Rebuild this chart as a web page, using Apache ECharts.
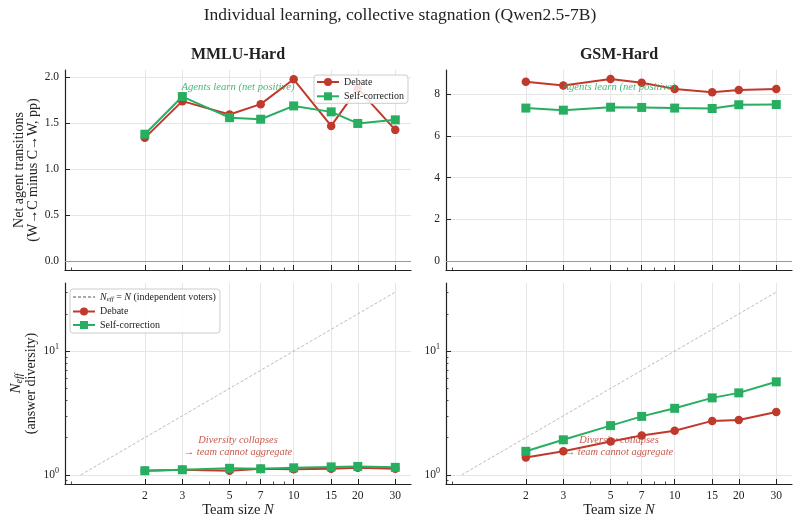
<!DOCTYPE html>
<html><head><meta charset="utf-8">
<script src="https://cdn.jsdelivr.net/npm/echarts@6/dist/echarts.min.js"></script>
<style>html,body{margin:0;padding:0;background:#fff}#c{width:799px;height:522px}</style>
</head><body><div id="c"></div>
<script>
// ---- data ----
const teamSizes = [2, 3, 5, 7, 10, 15, 20, 30];
const mmluDebate = [1.34, 1.74, 1.595, 1.707, 1.978, 1.47, 1.877, 1.427];
const mmluSelf = [1.38, 1.79, 1.56, 1.543, 1.688, 1.623, 1.497, 1.536];
const gsmDebate = [8.59, 8.41, 8.72, 8.54, 8.25, 8.09, 8.20, 8.24];
const gsmSelf = [7.33, 7.23, 7.37, 7.36, 7.33, 7.31, 7.49, 7.50];
const mmluNeffDebate = [1.08, 1.10, 1.08, 1.12, 1.11, 1.12, 1.14, 1.12];
const mmluNeffSelf = [1.08, 1.10, 1.13, 1.12, 1.14, 1.16, 1.17, 1.15];
const gsmNeffDebate = [1.38, 1.55, 1.86, 2.08, 2.27, 2.73, 2.78, 3.22];
const gsmNeffSelf = [1.55, 1.92, 2.50, 2.97, 3.45, 4.19, 4.60, 5.65];
const diagN = [1, 30];
const xMajorTicks = [2, 3, 5, 7, 10, 15, 20, 30];
const xMinorTicks = [0.9, 4, 6, 8, 9];
const yNeffMajor = [1, 10];
const yNeffMinor = [0.9, 2, 3, 4, 5, 6, 7, 8, 9, 20, 30];
const yTopLeftTicks = [0, 0.5, 1, 1.5, 2];
const yTopRightTicks = [0, 2, 4, 6, 8];

// ---- style ----
const FONT = '"Liberation Serif", "Times New Roman", serif';
const RED = '#c0392b', GREEN = '#27ae60';
const INK = '#222';
const GRIDC = '#e6e6e6';
const LOGMIN = 0.8435, LOGMAX = 35.56;
const grids = [
  {left: 65, top: 70, width: 346, height: 200},
  {left: 446, top: 70, width: 346, height: 200},
  {left: 65, top: 283, width: 346, height: 201},
  {left: 446, top: 283, width: 346, height: 201}
];

function xMajor(gi, showLabels) {
  return {
    type: 'log', gridIndex: gi, min: LOGMIN, max: LOGMAX, position: 'bottom',
    axisLine: {show: true, onZero: false, lineStyle: {color: INK, width: 1.2}},
    axisTick: {show: true, inside: true, length: 5, customValues: xMajorTicks, lineStyle: {color: INK, width: 1}},
    axisLabel: {show: showLabels, customValues: xMajorTicks, formatter: v => String(Math.round(v)),
      color: INK, fontFamily: FONT, fontSize: 11.5, margin: 6},
    splitLine: {show: true, lineStyle: {color: GRIDC, width: 1}},
    minorTick: {show: false}, minorSplitLine: {show: false},
    name: showLabels ? '{t|Team size }{i|N}' : '', nameLocation: 'middle', nameGap: 19,
    nameTextStyle: {color: INK, fontFamily: FONT, fontSize: 14.5,
      rich: {t: {fontFamily: FONT, fontSize: 14.5, color: INK}, i: {fontFamily: FONT, fontSize: 14.5, fontStyle: 'italic', color: INK}}}
  };
}
function xMinor(gi) {
  return {
    type: 'log', gridIndex: gi, min: LOGMIN, max: LOGMAX, position: 'bottom', offset: 0,
    axisLine: {show: false, onZero: false},
    axisTick: {show: true, inside: true, length: 2.5, customValues: xMinorTicks, lineStyle: {color: INK, width: 0.8}},
    axisLabel: {show: false}, splitLine: {show: false}, minorTick: {show: false}
  };
}
function yLin(gi, min, max, ticks, fmt, name) {
  return {
    type: 'value', gridIndex: gi, min: min, max: max, position: 'left',
    axisLine: {show: true, onZero: false, lineStyle: {color: INK, width: 1.2}},
    axisTick: {show: true, inside: true, length: 5, customValues: ticks, lineStyle: {color: INK}},
    axisLabel: {customValues: ticks, formatter: fmt, color: INK, fontFamily: FONT, fontSize: 11.5, margin: 6},
    splitLine: {show: true, lineStyle: {color: GRIDC, width: 1}},
    name: name, nameLocation: 'middle', nameGap: 25,
    nameTextStyle: {color: INK, fontFamily: FONT, fontSize: 14, lineHeight: 14}
  };
}
function yLogMajor(gi, withName) {
  return {
    type: 'log', gridIndex: gi, min: LOGMIN, max: LOGMAX, position: 'left',
    axisLine: {show: true, onZero: false, lineStyle: {color: INK, width: 1.2}},
    axisTick: {show: true, inside: true, length: 5, customValues: yNeffMajor, lineStyle: {color: INK}},
    axisLabel: {customValues: yNeffMajor, margin: 6,
      formatter: v => '{b|10}{s|' + Math.round(Math.log10(v)) + '}',
      rich: {b: {fontFamily: FONT, fontSize: 11.5, color: INK},
             s: {fontFamily: FONT, fontSize: 8, color: INK, padding: [0, 0, 8, 0]}}},
    splitLine: {show: true, lineStyle: {color: GRIDC, width: 1}},
    minorTick: {show: false},
    name: withName ? '{n|N}{e|eff}\n{t|(answer diversity)}' : '', nameLocation: 'middle', nameGap: 24,
    nameTextStyle: {color: INK, fontFamily: FONT, fontSize: 14, lineHeight: 16,
      rich: {n: {fontFamily: FONT, fontSize: 15, fontStyle: 'italic', color: INK},
             e: {fontFamily: FONT, fontSize: 10, fontStyle: 'italic', color: INK, padding: [7, 0, 0, 0]},
             t: {fontFamily: FONT, fontSize: 14, color: INK}}}
  };
}
function yLogMinor(gi) {
  return {
    type: 'log', gridIndex: gi, min: LOGMIN, max: LOGMAX, position: 'left', offset: 0,
    axisLine: {show: false, onZero: false},
    axisTick: {show: true, inside: true, length: 2.5, customValues: yNeffMinor, lineStyle: {color: INK, width: 0.8}},
    axisLabel: {show: false}, splitLine: {show: false}, minorTick: {show: false}
  };
}
function lineSeries(name, color, symbol, xi, yi, ys) {
  return {
    type: 'line', name: name, xAxisIndex: xi, yAxisIndex: yi,
    data: teamSizes.map((n, i) => [n, ys[i]]),
    symbol: symbol, symbolSize: symbol === 'rect' ? 9 : 8.5, showSymbol: true,
    lineStyle: {width: 2, color: color}, itemStyle: {color: color},
    z: 3, animation: false
  };
}
function diagSeries(xi, yi) {
  return {
    type: 'line', name: 'Neff', xAxisIndex: xi, yAxisIndex: yi,
    data: diagN.map(n => [n, n]), symbol: 'none', showSymbol: false,
    lineStyle: {width: 0.8, color: '#aaaaaa', type: [3, 2]}, itemStyle: {color: '#aaaaaa'},
    z: 2, animation: false
  };
}

const tlDebate = lineSeries('Debate', RED, 'circle', 0, 0, mmluDebate);
tlDebate.markLine = {silent: true, symbol: 'none', label: {show: false}, animation: false,
  lineStyle: {color: '#999', width: 1.2, type: 'solid'}, data: [{yAxis: 0}]};
const trDebate = lineSeries('Debate', RED, 'circle', 2, 1, gsmDebate);
trDebate.markLine = {silent: true, symbol: 'none', label: {show: false}, animation: false,
  lineStyle: {color: '#999', width: 1.2, type: 'solid'}, data: [{yAxis: 0}]};

const legendBase = {
  orient: 'vertical', itemWidth: 22, itemHeight: 10, itemGap: 4.3,
  padding: [2, 4, 2, 2], borderColor: '#cccccc', borderWidth: 1, borderRadius: 3,
  backgroundColor: 'rgba(255,255,255,0.85)',
  textStyle: {color: INK, fontFamily: FONT, fontSize: 10,
    rich: {n: {fontFamily: FONT, fontSize: 10, fontStyle: 'italic', color: INK},
           e: {fontFamily: FONT, fontSize: 7, fontStyle: 'italic', color: INK, padding: [5, 0, 0, 0]},
           t: {fontFamily: FONT, fontSize: 10, color: INK}}},
  formatter: name => name === 'Neff' ? '{n|N}{e|eff}{t| = }{n|N}{t| (independent voters)}' : name
};

function txt(x, y, text, font, fill, lh) {
  return {type: 'text', x: x, y: y, silent: true, z: 10,
    style: {text: text, font: font, fill: fill, align: 'center', verticalAlign: 'middle',
      textAlign: 'center', textVerticalAlign: 'middle', lineHeight: lh || undefined}};
}
const cx = g => g.left + g.width / 2;

const option = {
  animation: false,
  backgroundColor: '#ffffff',
  grid: grids.map(g => Object.assign({containLabel: false}, g)),
  xAxis: [xMajor(0, false), xMinor(0), xMajor(1, false), xMinor(1), xMajor(2, true), xMinor(2), xMajor(3, true), xMinor(3)],
  yAxis: [
    yLin(0, -0.099, 2.079, yTopLeftTicks, v => v.toFixed(1), 'Net agent transitions\n(W→C minus C→W, pp)'),
    yLin(1, -0.436, 9.156, yTopRightTicks, v => String(v), ''),
    yLogMajor(2, true), yLogMinor(2),
    yLogMajor(3, false), yLogMinor(3)
  ],
  legend: [
    Object.assign({}, legendBase, {data: ['Debate', 'Self-correction'], left: 314, top: 75}),
    Object.assign({}, legendBase, {data: [{name: 'Neff', itemStyle: {opacity: 0}}, 'Debate', 'Self-correction'],
      left: 70, top: 289, padding: [3, 4, 3, 2], itemGap: 3.5})
  ],
  series: [
    tlDebate, lineSeries('Self-correction', GREEN, 'rect', 0, 0, mmluSelf),
    trDebate, lineSeries('Self-correction', GREEN, 'rect', 2, 1, gsmSelf),
    diagSeries(4, 2), lineSeries('Debate', RED, 'circle', 4, 2, mmluNeffDebate), lineSeries('Self-correction', GREEN, 'rect', 4, 2, mmluNeffSelf),
    diagSeries(6, 4), lineSeries('Debate', RED, 'circle', 6, 4, gsmNeffDebate), lineSeries('Self-correction', GREEN, 'rect', 6, 4, gsmNeffSelf)
  ],
  graphic: [
    txt(400, 15, 'Individual learning, collective stagnation (Qwen2.5-7B)', '17.5px ' + FONT, INK),
    txt(cx(grids[0]), 55, 'MMLU-Hard', 'bold 16px ' + FONT, INK),
    txt(cx(grids[1]), 55, 'GSM-Hard', 'bold 16px ' + FONT, INK),
    txt(cx(grids[0]), grids[0].top + 17, 'Agents learn (net positive)', 'italic 10.7px ' + FONT, 'rgba(39,174,96,0.85)'),
    txt(cx(grids[1]), grids[1].top + 17, 'Agents learn (net positive)', 'italic 10.7px ' + FONT, 'rgba(39,174,96,0.85)'),
    txt(cx(grids[2]), grids[2].top + 163, 'Diversity collapses\n→ team cannot aggregate', 'italic 10.4px ' + FONT, 'rgba(192,57,43,0.85)', 12),
    txt(cx(grids[3]), grids[3].top + 163, 'Diversity collapses\n→ team cannot aggregate', 'italic 10.4px ' + FONT, 'rgba(192,57,43,0.85)', 12)
  ]
};
const chart = echarts.init(document.getElementById('c'), null, {renderer: 'canvas'});
chart.setOption(option);
</script>
</body></html>
